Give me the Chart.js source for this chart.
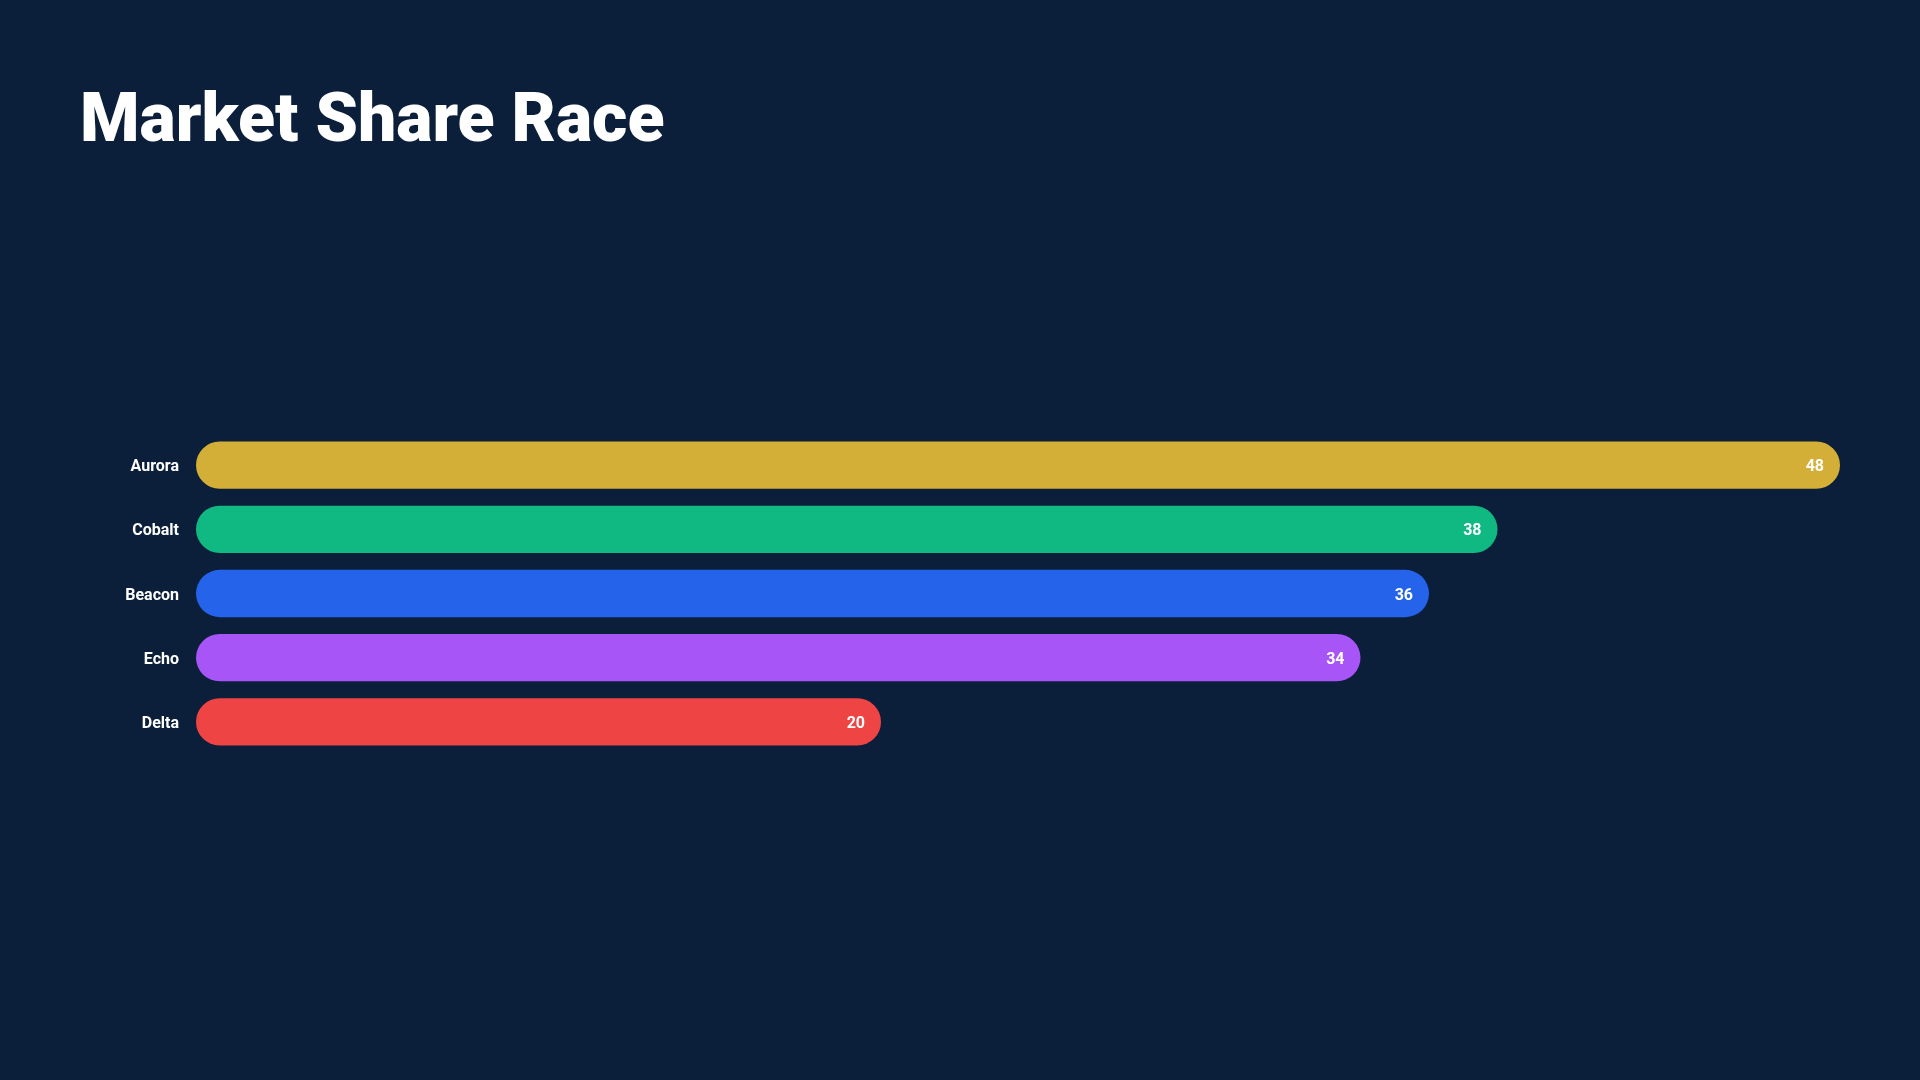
<!DOCTYPE html>
<html>
<head>
<meta charset="utf-8">
<script src="https://cdn.jsdelivr.net/npm/chart.js@4.4.1/dist/chart.umd.min.js"></script>
<style>
  html, body { margin: 0; padding: 0; width: 1920px; height: 1080px; background: #0B1F3B; overflow: hidden; }
  h1 { position: absolute; left: 80px; top: 73px; margin: 0; font-family: Roboto, sans-serif; font-weight: 900; font-size: 68px; line-height: 90px; color: #ffffff; letter-spacing: 0px; }
  #wrap { position: absolute; left: 80px; top: 433px; width: 1760px; height: 321px; }
</style>
</head>
<body>
<h1>Market Share Race</h1>
<div id="wrap"><canvas id="c"></canvas></div>
<script>
const categories = ["Aurora", "Cobalt", "Beacon", "Echo", "Delta"];
const shareValues = [48, 38, 36, 34, 20];
const barColors = ["#D4AF37", "#10B981", "#2563EB", "#A855F7", "#EF4444"];

const valueLabels = {
  id: 'valueLabels',
  afterDatasetsDraw(chart) {
    const ctx = chart.ctx;
    const meta = chart.getDatasetMeta(0);
    ctx.save();
    ctx.fillStyle = '#ffffff';
    ctx.font = 'bold 16px Roboto, sans-serif';
    ctx.textAlign = 'right';
    ctx.textBaseline = 'middle';
    meta.data.forEach((bar, i) => {
      ctx.fillText(String(shareValues[i]), bar.x - 16, bar.y + 2);
    });
    ctx.restore();
  }
};

new Chart(document.getElementById('c'), {
  type: 'bar',
  data: {
    labels: categories,
    datasets: [{
      data: shareValues,
      backgroundColor: barColors,
      borderRadius: 30,
      borderSkipped: false,
      categoryPercentage: 0.8,
      barPercentage: 0.92
    }]
  },
  options: {
    indexAxis: 'y',
    responsive: true,
    maintainAspectRatio: false,
    animation: false,
    layout: { padding: 0 },
    plugins: { legend: { display: false }, tooltip: { enabled: false } },
    scales: {
      x: { display: false, min: 0, max: Math.max(...shareValues) },
      y: {
        grid: { display: false, drawTicks: false },
        border: { display: false },
        afterFit(scale) { scale.width = 116; scale.paddingTop = 0; scale.paddingBottom = 0; },
        ticks: {
          color: '#ffffff',
          padding: 17,
          labelOffset: 2,
          font: { family: 'Roboto, sans-serif', size: 16, weight: 'bold' }
        }
      }
    }
  },
  plugins: [valueLabels]
});
</script>
</body>
</html>
